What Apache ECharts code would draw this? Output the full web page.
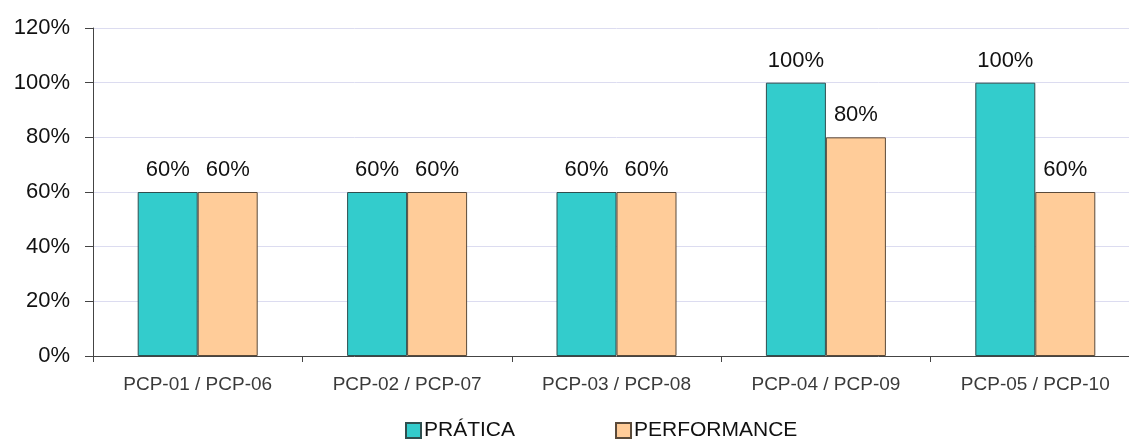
<!DOCTYPE html>
<html>
<head>
<meta charset="utf-8">
<style>
  html, body { margin: 0; padding: 0; background: #fff; overflow: hidden; }
  #chart { width: 1140px; height: 442px; }
</style>
<script src="https://cdn.jsdelivr.net/npm/echarts@6/dist/echarts.min.js"></script>
</head>
<body>
<div id="chart"></div>
<script>
// categories and values (percent)
const categories = ['PCP-01 / PCP-06', 'PCP-02 / PCP-07', 'PCP-03 / PCP-08', 'PCP-04 / PCP-09', 'PCP-05 / PCP-10'];
const pratica = [60, 60, 60, 100, 100];
const performance = [60, 60, 60, 80, 60];
const seriesNames = ['PRÁTICA', 'PERFORMANCE'];

const font = '"Liberation Sans", Arial, sans-serif';

const labelStyle = {
  show: true,
  position: 'top',
  distance: 11,
  formatter: '{c}%',
  fontFamily: font,
  fontSize: 22,
  color: '#111',
};

// chart is a bit wider than the window, the plot runs past the right edge like the original
const chart = echarts.init(document.getElementById('chart'));
chart.setOption({
  animation: false,
  grid: { left: 93, top: 28, right: 0, height: 328 },
  legend: {
    data: seriesNames,
    left: 405,
    top: 420,
    padding: 0,
    itemWidth: 15,
    itemHeight: 15,
    itemGap: 100,
    icon: 'rect',
    textStyle: { fontFamily: font, fontSize: 21, color: '#111', padding: [0, 0, 0, -2] },
  },
  xAxis: {
    type: 'category',
    data: categories,
    axisLine: { lineStyle: { color: '#444', width: 1 } },
    axisTick: { show: true, length: 6, lineStyle: { color: '#444' } },
    axisLabel: { fontFamily: font, fontSize: 19, color: '#3a3a3a', margin: 19 },
  },
  yAxis: {
    type: 'value',
    min: 0,
    max: 120,
    interval: 20,
    axisLine: { show: true, lineStyle: { color: '#444', width: 1 } },
    axisTick: { show: true, length: 8, lineStyle: { color: '#444' } },
    axisLabel: { formatter: '{value}%', fontFamily: font, fontSize: 22, color: '#111', margin: 23 },
    splitLine: { lineStyle: { color: '#dcdcf0', width: 1 } },
  },
  series: [
    {
      name: seriesNames[0],
      type: 'bar',
      data: pratica,
      barWidth: 60,
      barGap: '0%',
      itemStyle: { color: '#33CCCC', borderColor: '#2f4f4f', borderWidth: 1 },
      label: labelStyle,
    },
    {
      name: seriesNames[1],
      type: 'bar',
      data: performance,
      barWidth: 60,
      barGap: '0%',
      itemStyle: { color: '#FFCC99', borderColor: '#5a4a3a', borderWidth: 1 },
      label: labelStyle,
    },
  ],
});
</script>
</body>
</html>
